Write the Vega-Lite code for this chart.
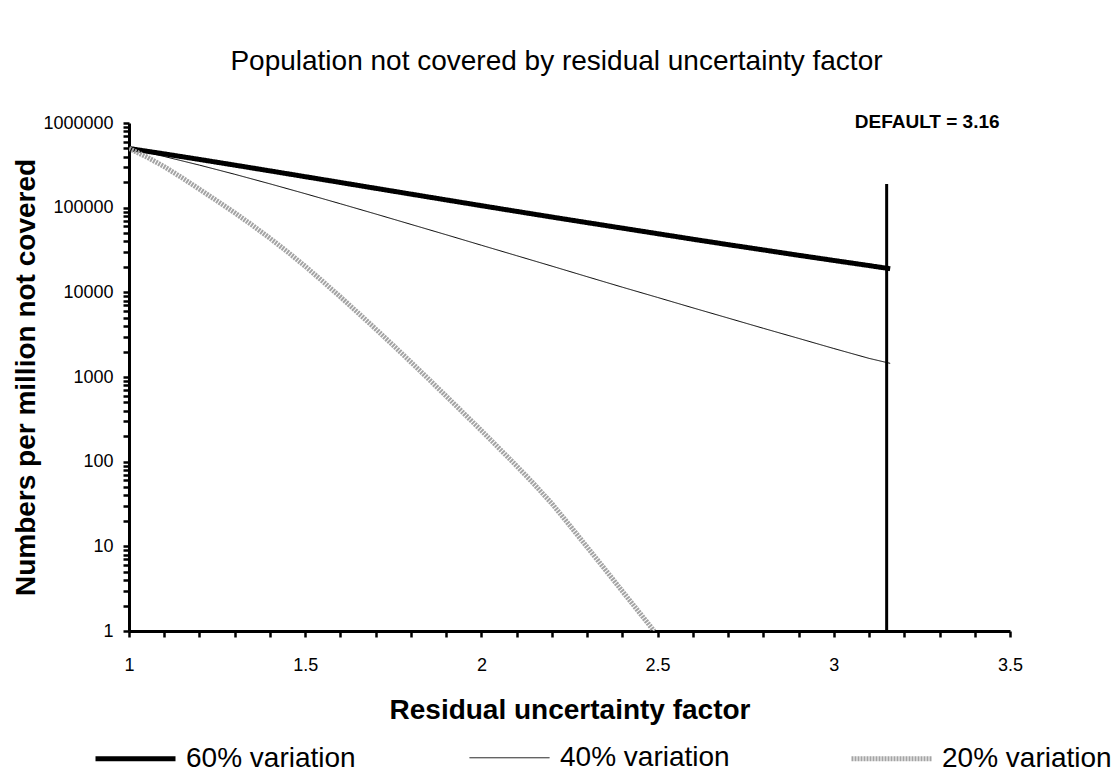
{
  "$schema": "https://vega.github.io/schema/vega-lite/v6.json",
  "width": 881,
  "height": 508,
  "autosize": "none",
  "padding": {"left": 129, "top": 123, "right": 105, "bottom": 141},
  "background": "white",
  "config": {"font": "Liberation Sans", "view": {"stroke": null}},
  "title": {"text": "Population not covered by residual uncertainty factor", "fontSize": 28, "fontWeight": "normal", "color": "black", "offset": 37, "dx": -6, "anchor": "middle", "frame": "bounds"},
  "layer": [
    {
      "data": {"values": [
        {"series": "60% variation", "factor": 1.0, "per_million": 500000},
        {"series": "60% variation", "factor": 1.1, "per_million": 431800},
        {"series": "60% variation", "factor": 1.2, "per_million": 371200},
        {"series": "60% variation", "factor": 1.3, "per_million": 318100},
        {"series": "60% variation", "factor": 1.4, "per_million": 272000},
        {"series": "60% variation", "factor": 1.5, "per_million": 232300},
        {"series": "60% variation", "factor": 1.6, "per_million": 198400},
        {"series": "60% variation", "factor": 1.7, "per_million": 169300},
        {"series": "60% variation", "factor": 1.8, "per_million": 144600},
        {"series": "60% variation", "factor": 1.9, "per_million": 123500},
        {"series": "60% variation", "factor": 2.0, "per_million": 105600},
        {"series": "60% variation", "factor": 2.1, "per_million": 90400},
        {"series": "60% variation", "factor": 2.2, "per_million": 77500},
        {"series": "60% variation", "factor": 2.3, "per_million": 66600},
        {"series": "60% variation", "factor": 2.4, "per_million": 57300},
        {"series": "60% variation", "factor": 2.5, "per_million": 49300},
        {"series": "60% variation", "factor": 2.6, "per_million": 42400},
        {"series": "60% variation", "factor": 2.7, "per_million": 36600},
        {"series": "60% variation", "factor": 2.8, "per_million": 31700},
        {"series": "60% variation", "factor": 2.9, "per_million": 27400},
        {"series": "60% variation", "factor": 3.0, "per_million": 23800},
        {"series": "60% variation", "factor": 3.1, "per_million": 20700},
        {"series": "60% variation", "factor": 3.16, "per_million": 19000},
        {"series": "40% variation", "factor": 1.0, "per_million": 500000},
        {"series": "40% variation", "factor": 1.1, "per_million": 402300},
        {"series": "40% variation", "factor": 1.2, "per_million": 318000},
        {"series": "40% variation", "factor": 1.3, "per_million": 248000},
        {"series": "40% variation", "factor": 1.4, "per_million": 191200},
        {"series": "40% variation", "factor": 1.5, "per_million": 146300},
        {"series": "40% variation", "factor": 1.6, "per_million": 111200},
        {"series": "40% variation", "factor": 1.7, "per_million": 84200},
        {"series": "40% variation", "factor": 1.8, "per_million": 63500},
        {"series": "40% variation", "factor": 1.9, "per_million": 47900},
        {"series": "40% variation", "factor": 2.0, "per_million": 36000},
        {"series": "40% variation", "factor": 2.1, "per_million": 27100},
        {"series": "40% variation", "factor": 2.2, "per_million": 20400},
        {"series": "40% variation", "factor": 2.3, "per_million": 15300},
        {"series": "40% variation", "factor": 2.4, "per_million": 11500},
        {"series": "40% variation", "factor": 2.5, "per_million": 8700},
        {"series": "40% variation", "factor": 2.6, "per_million": 6560},
        {"series": "40% variation", "factor": 2.7, "per_million": 4970},
        {"series": "40% variation", "factor": 2.8, "per_million": 3760},
        {"series": "40% variation", "factor": 2.9, "per_million": 2860},
        {"series": "40% variation", "factor": 3.0, "per_million": 2170},
        {"series": "40% variation", "factor": 3.1, "per_million": 1660},
        {"series": "40% variation", "factor": 3.16, "per_million": 1450},
        {"series": "20% variation", "factor": 1.0, "per_million": 500000},
        {"series": "20% variation", "factor": 1.05, "per_million": 398000},
        {"series": "20% variation", "factor": 1.1, "per_million": 305000},
        {"series": "20% variation", "factor": 1.15, "per_million": 226000},
        {"series": "20% variation", "factor": 1.2, "per_million": 165000},
        {"series": "20% variation", "factor": 1.25, "per_million": 120000},
        {"series": "20% variation", "factor": 1.3, "per_million": 87000},
        {"series": "20% variation", "factor": 1.35, "per_million": 62000},
        {"series": "20% variation", "factor": 1.4, "per_million": 43500},
        {"series": "20% variation", "factor": 1.45, "per_million": 30000},
        {"series": "20% variation", "factor": 1.5, "per_million": 20300},
        {"series": "20% variation", "factor": 1.55, "per_million": 13450},
        {"series": "20% variation", "factor": 1.6, "per_million": 8820},
        {"series": "20% variation", "factor": 1.65, "per_million": 5720},
        {"series": "20% variation", "factor": 1.7, "per_million": 3690},
        {"series": "20% variation", "factor": 1.75, "per_million": 2360},
        {"series": "20% variation", "factor": 1.8, "per_million": 1500},
        {"series": "20% variation", "factor": 1.85, "per_million": 947},
        {"series": "20% variation", "factor": 1.9, "per_million": 595},
        {"series": "20% variation", "factor": 1.95, "per_million": 372},
        {"series": "20% variation", "factor": 2.0, "per_million": 233},
        {"series": "20% variation", "factor": 2.05, "per_million": 144},
        {"series": "20% variation", "factor": 2.1, "per_million": 89},
        {"series": "20% variation", "factor": 2.15, "per_million": 54},
        {"series": "20% variation", "factor": 2.2, "per_million": 32},
        {"series": "20% variation", "factor": 2.25, "per_million": 17.8},
        {"series": "20% variation", "factor": 2.3, "per_million": 9.8},
        {"series": "20% variation", "factor": 2.35, "per_million": 5.4},
        {"series": "20% variation", "factor": 2.4, "per_million": 2.95},
        {"series": "20% variation", "factor": 2.45, "per_million": 1.62},
        {"series": "20% variation", "factor": 2.49, "per_million": 1.0}
      ]},
      "mark": {"type": "line", "strokeCap": "butt", "strokeJoin": "round", "clip": true},
      "encoding": {
        "x": {
          "field": "factor", "type": "quantitative",
          "scale": {"domain": [1, 3.5], "nice": false, "zero": false},
          "axis": {
            "values": [1, 1.1, 1.2, 1.3, 1.4, 1.5, 1.6, 1.7, 1.8, 1.9, 2, 2.1, 2.2, 2.3, 2.4, 2.5, 2.6, 2.7, 2.8, 2.9, 3, 3.1, 3.2, 3.3, 3.4, 3.5],
            "tickCount": 200,
            "format": "~g",
            "labelExpr": "abs(datum.value*2 - round(datum.value*2)) < 0.000001 ? datum.label : ''",
            "labelOverlap": false,
            "labelFlush": false,
            "grid": false,
            "domainColor": "black", "domainWidth": 3,
            "tickColor": "black", "tickWidth": 2.5, "tickSize": 6,
            "labelFontSize": 18, "labelColor": "black", "labelPadding": 19,
            "title": "Residual uncertainty factor",
            "titleFontSize": 28, "titleFontWeight": "bold", "titleColor": "black", "titlePadding": 22
          }
        },
        "y": {
          "field": "per_million", "type": "quantitative",
          "scale": {"type": "log", "domain": [1, 1000000], "nice": false},
          "axis": {
            "values": [1,2,3,4,5,6,7,8,9,10,20,30,40,50,60,70,80,90,100,200,300,400,500,600,700,800,900,1000,2000,3000,4000,5000,6000,7000,8000,9000,10000,20000,30000,40000,50000,60000,70000,80000,90000,100000,200000,300000,400000,500000,600000,700000,800000,900000,1000000],
            "tickCount": 200,
            "format": "d",
            "labelExpr": "datum.value == pow(10, round(log(datum.value)/LN10)) ? datum.label : ''",
            "labelOverlap": false,
            "labelFlush": false,
            "grid": false,
            "domainColor": "black", "domainWidth": 3,
            "tickColor": "black", "tickWidth": 2.5, "tickSize": 6,
            "labelFontSize": 18, "labelColor": "black", "labelPadding": 10,
            "title": "Numbers per million not covered",
            "titleFontSize": 28, "titleFontWeight": "bold", "titleColor": "black", "titlePadding": 2
          }
        },
        "color": {
          "field": "series", "type": "nominal",
          "scale": {"domain": ["60% variation", "40% variation", "20% variation"], "range": ["#000000", "#000000", "#a4a4a4"]},
          "legend": {
            "title": null, "orient": "none", "legendX": -36, "legendY": 593,
            "direction": "horizontal", "columns": 3, "columnPadding": 111,
            "symbolType": "stroke", "symbolSize": 6400,
            "labelFontSize": 28, "labelColor": "black", "labelOffset": 8, "labelLimit": 400
          }
        },
        "strokeWidth": {
          "field": "series", "type": "nominal",
          "scale": {"type": "ordinal", "domain": ["60% variation", "40% variation", "20% variation"], "range": [5, 1, 5]}
        },
        "strokeDash": {
          "field": "series", "type": "nominal",
          "scale": {"domain": ["60% variation", "40% variation", "20% variation"], "range": [[1, 0], [1, 0], [2, 1]]}
        }
      }
    },
    {
      "data": {"values": [{"factor": 3.15, "low": 1, "high": 190000}]},
      "mark": {"type": "rule", "color": "black", "strokeWidth": 3},
      "encoding": {
        "x": {"field": "factor", "type": "quantitative"},
        "y": {"field": "low", "type": "quantitative"},
        "y2": {"field": "high"}
      }
    },
    {
      "data": {"values": [{"factor": 3.16, "per_million": 1000000, "label": "DEFAULT = 3.16"}]},
      "mark": {"type": "text", "fontSize": 19, "fontWeight": "bold", "color": "black", "align": "center", "baseline": "alphabetic", "dx": 37, "dy": 5},
      "encoding": {
        "x": {"field": "factor", "type": "quantitative"},
        "y": {"field": "per_million", "type": "quantitative"},
        "text": {"field": "label"}
      }
    }
  ]
}
